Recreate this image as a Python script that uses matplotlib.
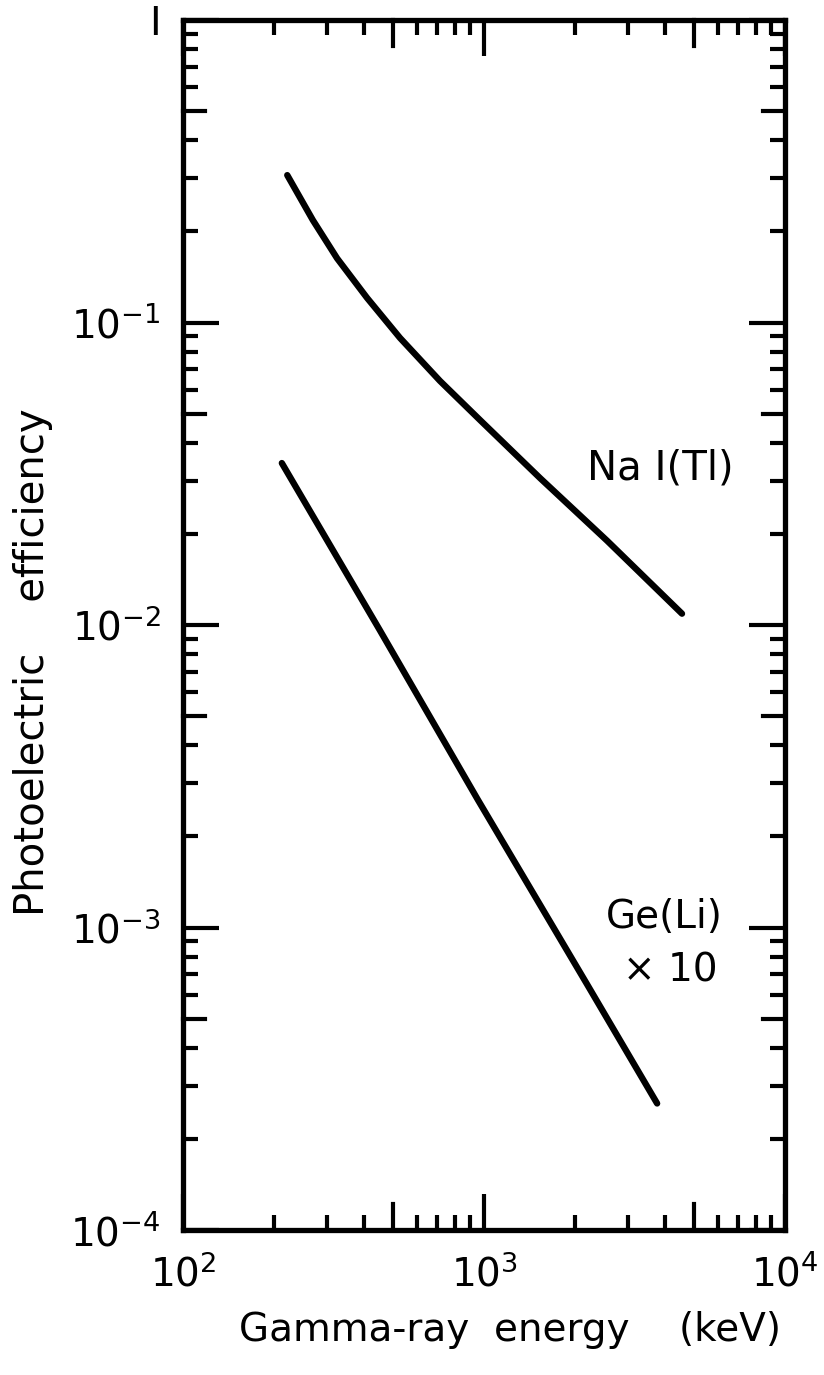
import numpy as np
import matplotlib.pyplot as plt
from matplotlib.ticker import LogLocator, NullFormatter

# values (keV, efficiency)
nai_energy = [222, 270, 325, 409, 526, 714, 970, 1535, 2563, 4548]
nai_eff = [0.307, 0.218, 0.163, 0.1205, 0.0889, 0.0641, 0.0476, 0.0306, 0.0190, 0.0109]

ge_energy = [213, 451, 955, 2198, 3760]
ge_eff = [0.0343, 0.0096, 0.00264, 0.00065, 0.000262]

x_ticks = [1e2, 1e3, 1e4]
x_ticklabels = [r'$10^2$', r'$10^3$', r'$10^4$']
y_ticks = [1e-4, 1e-3, 1e-2, 1e-1, 1]
y_ticklabels = [r'$10^{-4}$', r'$10^{-3}$', r'$10^{-2}$', r'$10^{-1}$', 'I']

plt.rcParams['font.family'] = ['DejaVu Sans']
plt.rcParams['mathtext.fontset'] = 'dejavusans'

fig = plt.figure(figsize=(8.24, 13.75), dpi=100)
ax = fig.add_axes([183/824, 1 - 1230/1375, 602/824, 1210/1375])

ax.plot(nai_energy, nai_eff, color='black', lw=4.6, solid_capstyle='round',
        solid_joinstyle='round')
ax.plot(ge_energy, ge_eff, color='black', lw=4.6, solid_capstyle='round',
        solid_joinstyle='round')

ax.set_xscale('log')
ax.set_yscale('log')
ax.set_xlim(100, 1e4)
ax.set_ylim(1e-4, 1)

for s in ax.spines.values():
    s.set_linewidth(3.8)

ax.set_xticks(x_ticks)
ax.set_xticklabels(x_ticklabels)
ax.set_yticks(y_ticks)
ax.set_yticklabels(y_ticklabels)

# minor ticks 2,3,4,6..9 short; 5 drawn a bit longer below
ax.xaxis.set_minor_locator(LogLocator(base=10, subs=[2, 3, 4, 6, 7, 8, 9]))
ax.yaxis.set_minor_locator(LogLocator(base=10, subs=[2, 3, 4, 6, 7, 8, 9]))
ax.xaxis.set_minor_formatter(NullFormatter())
ax.yaxis.set_minor_formatter(NullFormatter())

ax.tick_params(which='major', direction='in', length=26, width=3, top=True, right=True,
               labelsize=28)
ax.tick_params(axis='x', which='major', pad=18)
ax.tick_params(axis='y', which='major', pad=16)
ax.tick_params(which='minor', direction='in', length=11, width=3, top=True, right=True)

# mid ticks at 5
for xv in [500, 5000]:
    ax.plot([xv, xv], [1e-4, 1e-4 * 10**(26/302.5)], color='black', lw=3, clip_on=False)
    ax.plot([xv, xv], [1, 10**(-26/302.5)], color='black', lw=3, clip_on=False)
for yv in [5e-4, 5e-3, 5e-2, 5e-1]:
    ax.plot([100, 100 * 10**(22/301)], [yv, yv], color='black', lw=3, clip_on=False)
    ax.plot([1e4, 1e4 * 10**(-22/301)], [yv, yv], color='black', lw=3, clip_on=False)

ax.set_xlabel('Gamma-ray  energy    (keV)', fontsize=28)
ax.xaxis.set_label_coords((510 - 183) / 602, (1230 - 1330) / 1210)
ax.xaxis.label.set_va('center')
ax.set_ylabel('Photoelectric    efficiency', fontsize=29)
ax.yaxis.set_label_coords((33 - 183) / 602, (1230 - 662) / 1210)
ax.yaxis.label.set_va('center')

fig.text(660/824, 1 - 468/1375, 'Na I(Tl)', fontsize=29, ha='center', va='center')
fig.text(664/824, 1 - 917/1375, 'Ge(Li)', fontsize=28, ha='center', va='center')
fig.text(670/824, 1 - 971/1375, '× 10', fontsize=28, ha='center', va='center')

fig.savefig('out.png', dpi=100)
